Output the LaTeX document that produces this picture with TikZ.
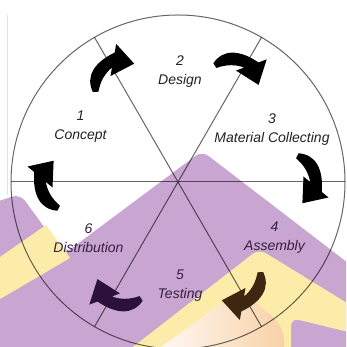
\documentclass[tikz,border=0pt]{standalone}
\usepackage{fontspec}
\setmainfont{Liberation Sans}
\definecolor{purp}{RGB}{201,166,209}
\definecolor{yel}{RGB}{252,236,170}
\definecolor{peach}{RGB}{247,200,165}
\definecolor{ink}{RGB}{34,34,34}
\definecolor{inkp}{RGB}{52,32,64}
\definecolor{arrbrown}{RGB}{62,38,16}
\definecolor{arrpurple}{RGB}{44,18,58}
\begin{document}
\begin{tikzpicture}[x=1pt,y=1pt,
  ring/.style={draw=black, draw opacity=0.6, line width=1pt},
  lbl/.style={align=center, inner sep=0pt, font=\fontsize{14}{19}\selectfont\itshape, text=#1},
  img/.style={shift={(0,347)}, yscale=-1}]
\useasboundingbox (0,0) rectangle (346,347);
\clip (0,0) rectangle (346,347);
\fill[white] (0,0) rectangle (346,347);
\begin{scope}[img]
  \fill[purp, rounded corners=8] (-10,204) -- (20,194) -- (64,254) -- (202,151) -- (365,276) -- (365,365) -- (-10,365) -- cycle;
  \fill[yel] (-10,264) -- (46,225) -- (70,258) -- (-10,305) -- cycle;
  \fill[yel, rounded corners=8] (120,357) -- (259,249) -- (365,314) -- (365,336) -- (291,318) -- (291,365) -- cycle;
  \shade[left color=white, middle color=white, right color=peach!75!yel, rounded corners=14] (140,362) -- (240,290) -- (284,326) -- (284,362) -- cycle;
  \draw[black!12, line width=0.8pt] (7,15) -- (7,195);
\end{scope}
\coordinate (C) at (178,165);
\draw[ring] (C) circle[radius=167];
\foreach \a in {0,60,...,300} \draw[ring] (C) -- ++(\a:167);
\fill[black!75] (C) circle[radius=1.3];
\foreach \a/\c in {120/black,60/black,0/black,-60/arrbrown,-120/arrpurple,180/black}{
  \begin{scope}[shift={(C)}, rotate=\a]
    \fill[\c, shift={(138,0)}, rotate=-90, scale=1.25] (-23,-14) .. controls (-22,0) and (-10,6) .. (7.9,4.6) -- (12.4,10.0) -- (17.0,-10.9) -- (-4.4,-10.0) -- (0.1,-4.6) .. controls (-7,-6) and (-13,-9) .. (-19,-16) -- cycle;
  \end{scope}
}
\node[lbl=ink] (n1) at (80.5,220) {1\\Concept};
\node[lbl=ink] (n2) at (180,275) {2\\Design};
\node[lbl=ink] (n3) at (272,217.5) {3\\Material Collecting};
\node[lbl=inkp] (n4) at (274.5,109) {4\\Assembly};
\node[lbl=inkp] (n5) at (180,61) {5\\Testing};
\node[lbl=inkp] (n6) at (88.5,109) {6\\Distribution};
\end{tikzpicture}
\end{document}
